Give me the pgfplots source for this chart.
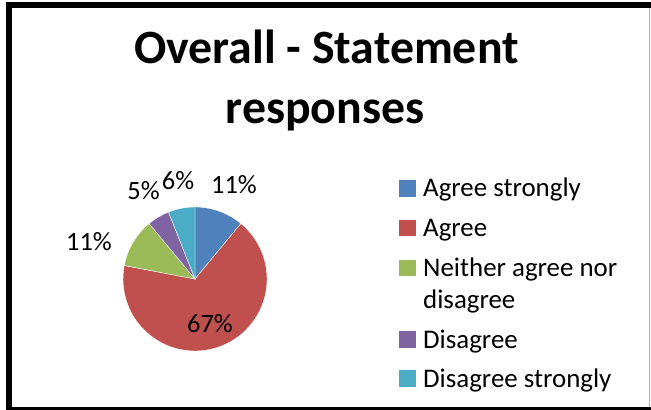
\documentclass[border=0pt]{standalone}
\usepackage{pgfplots}
\pgfplotsset{compat=1.18}
\usepackage{fontspec}
\setmainfont{Carlito}
\definecolor{cA}{HTML}{4F81BD}
\definecolor{cB}{HTML}{C0504D}
\definecolor{cC}{HTML}{9BBB59}
\definecolor{cD}{HTML}{8064A2}
\definecolor{cE}{HTML}{4BACC6}
\begin{document}
\begin{tikzpicture}
\begin{axis}[hide axis, scale only axis, width=651bp, height=410bp,
  xmin=0, xmax=651, ymin=0, ymax=410, clip=false]
\path (axis cs:0,0) rectangle (axis cs:651,410);
% frame
\fill[black] (axis cs:6,0) rectangle (axis cs:12,408);
\fill[black] (axis cs:6,402) rectangle (axis cs:651,408);
\fill[black] (axis cs:6,0) rectangle (axis cs:651,3.3);
\draw[gray!60, line width=1bp] (axis cs:649.5,3.3) -- (axis cs:649.5,402);
% pie: shares in percent, clockwise from 12 o'clock
\pgfplotsextra{
  \gdef\pieA{90}
  \foreach \v/\c in {11/cA,67/cB,11/cC,5/cD,6/cE}{
    \pgfmathsetmacro\pieB{\pieA-3.6*\v}
    \fill[\c, draw=white, line width=0.4bp] (axis cs:195,131) -- ++(\pieA:72bp)
      arc[start angle=\pieA, end angle=\pieB, radius=72bp] -- cycle;
    \xdef\pieA{\pieB}
  }
}
% data labels
\tikzset{lab/.style={anchor=base, inner sep=0pt, font=\fontsize{26.5}{31}\selectfont}}
\node[lab] at (axis cs:234,217) {11\%};
\node[lab] at (axis cs:210,78) {67\%};
\node[lab] at (axis cs:89,160) {11\%};
\node[lab] at (axis cs:143.5,211) {5\%};
\node[lab] at (axis cs:178,221) {6\%};
% title
\node[anchor=base, inner sep=0pt, font=\bfseries\fontsize{48}{56}\selectfont] at (axis cs:326.5,347) {Overall - Statement};
\node[anchor=base, inner sep=0pt, font=\bfseries\fontsize{48}{56}\selectfont] at (axis cs:325,287) {responses};
% legend
\tikzset{leg/.style={anchor=base west, inner sep=0pt, font=\fontsize{27}{31}\selectfont}}
\fill[cA] (axis cs:399,213.3) rectangle (axis cs:415.7,230);
\node[leg] at (axis cs:423,213.3) {Agree strongly};
\fill[cB] (axis cs:399,173.5) rectangle (axis cs:415.7,190.2);
\node[leg] at (axis cs:423,173.5) {Agree};
\fill[cC] (axis cs:399,133.5) rectangle (axis cs:415.7,150.2);
\node[leg] at (axis cs:423,133.5) {Neither agree nor};
\node[leg] at (axis cs:423,102) {disagree};
\fill[cD] (axis cs:399,62) rectangle (axis cs:415.7,78.7);
\node[leg] at (axis cs:423,62) {Disagree};
\fill[cE] (axis cs:399,23) rectangle (axis cs:415.7,39.7);
\node[leg] at (axis cs:423,23) {Disagree strongly};
\end{axis}
\end{tikzpicture}
\end{document}
